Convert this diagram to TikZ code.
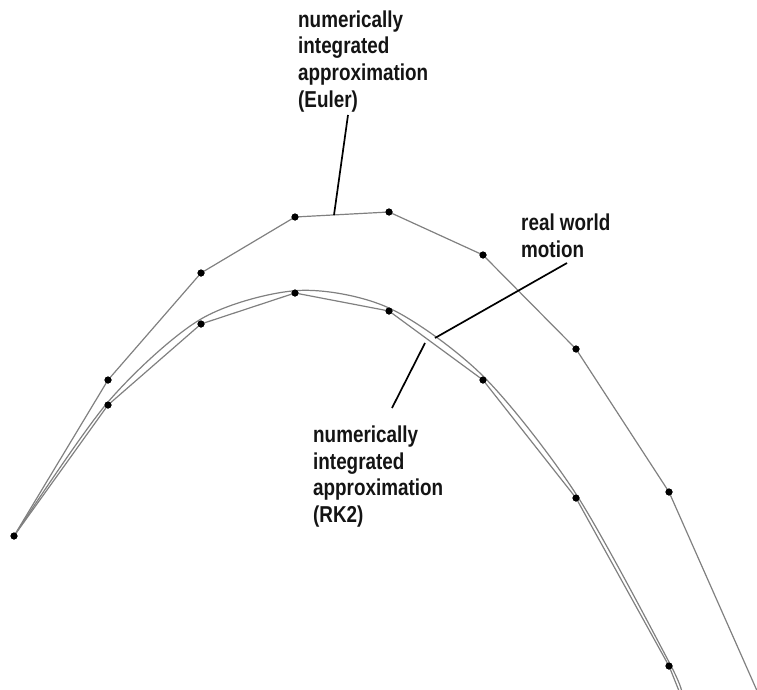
\documentclass[tikz,border=0pt]{standalone}
\usepackage{fontspec}
\setmainfont{Liberation Sans}[FakeStretch=0.82]
\begin{document}
\begin{tikzpicture}[x=1pt,y=-1pt,
  dot/.style={circle,fill=black,inner sep=0pt,minimum size=7pt},
  pathline/.style={draw=black!50,line width=1.2pt},
  leader/.style={draw=black,line width=1.7pt},
  lbl/.style={anchor=base west,inner sep=0pt,align=left,font=\fontsize{23}{26.5}\selectfont\bfseries,text=black!92}]
\useasboundingbox (0,0) rectangle (757,690);
\clip (0,0) rectangle (757,690);
% Euler points
\node[dot] (e0) at (14,536) {};
\node[dot] (e1) at (108,380) {};
\node[dot] (e2) at (201,273) {};
\node[dot] (e3) at (295,217) {};
\node[dot] (e4) at (389,212) {};
\node[dot] (e5) at (483,255) {};
\node[dot] (e6) at (576,349) {};
\node[dot] (e7) at (669,492) {};
\coordinate (eend) at (762,702);
% RK2 points
\node[dot] (r1) at (108,405) {};
\node[dot] (r2) at (201,324) {};
\node[dot] (r3) at (295,293) {};
\node[dot] (r4) at (389,311) {};
\node[dot] (r5) at (483,380) {};
\node[dot] (r6) at (576,498) {};
\node[dot] (r7) at (669,666) {};
\coordinate (rend) at (681,696);
% real world motion curve
\draw[pathline] plot[smooth,tension=0.5] coordinates {(14,536) (108,402) (201,319) (298,290.5) (389,308) (483,376) (576,494) (669,662) (682,694)};
% Euler polyline
\draw[pathline] (e0.center) -- (e1.center) -- (e2.center) -- (e3.center) -- (e4.center) -- (e5.center) -- (e6.center) -- (e7.center) -- (eend);
% RK2 polyline
\draw[pathline] (e0.center) -- (r1.center) -- (r2.center) -- (r3.center) -- (r4.center) -- (r5.center) -- (r6.center) -- (r7.center) -- (rend);
% redraw dots on top
\foreach \n in {e0,e1,e2,e3,e4,e5,e6,e7,r1,r2,r3,r4,r5,r6,r7}
  \fill (\n) circle (3.5pt);
% labels (anchored at the baseline of the last line)
\node[lbl] (leuler) at (298,107) {numerically\\integrated\\approximation\\(Euler)};
\node[lbl] (lreal) at (521,257) {real world\\motion};
\node[lbl] (lrk) at (313,522) {numerically\\integrated\\approximation\\(RK2)};
% leader lines
\coordinate (a1) at (348,115);
\coordinate (a2) at (334,215);
\coordinate (b1) at (567,263);
\coordinate (b2) at (435,338);
\coordinate (c1) at (392,408);
\coordinate (c2) at (425,343);
\draw[leader] (a1) -- (a2);
\draw[leader] (b1) -- (b2);
\draw[leader] (c1) -- (c2);
\end{tikzpicture}
\end{document}
